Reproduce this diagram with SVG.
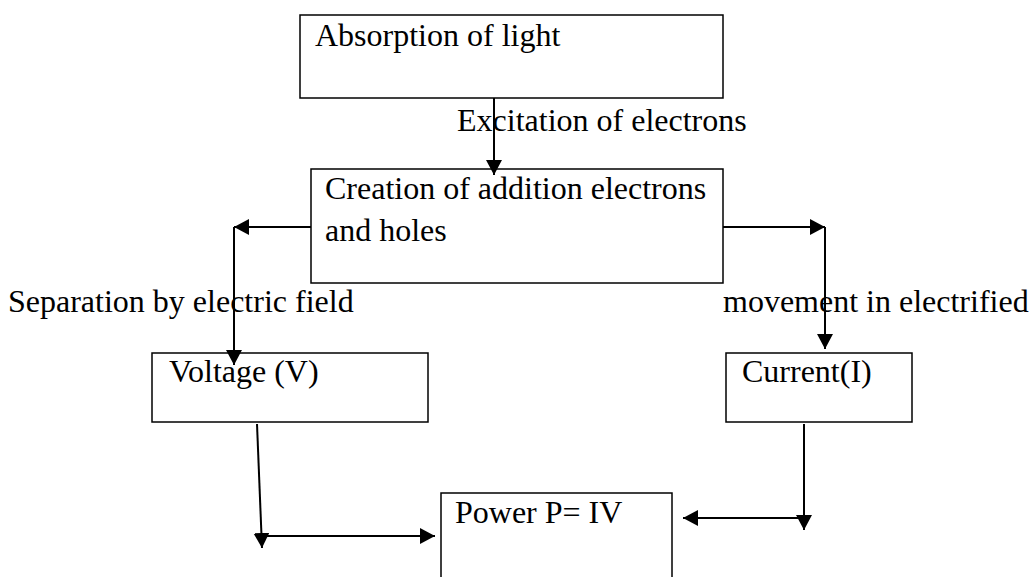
<svg xmlns="http://www.w3.org/2000/svg" width="1030" height="577" viewBox="0 0 1030 577">
<style>
.box{fill:#fff;stroke:#000;stroke-width:1.5}
.t{font-family:"Liberation Serif","Times New Roman",serif;font-size:32px;fill:#000}
.c{fill:none;stroke:#000;stroke-width:2}
</style>
<defs>
<marker id="ah" markerUnits="userSpaceOnUse" markerWidth="18" markerHeight="18" refX="15" refY="8" orient="auto">
<path d="M0,0 L15,8 L0,16 z" fill="#000"/>
</marker>
</defs>
<rect width="1030" height="577" fill="#fff"/>
<g id="n1"><rect class="box" x="300" y="15" width="423" height="83"/><text class="t" x="315" y="46">Absorption of light</text></g>
<g id="n2"><rect class="box" x="311" y="169" width="412" height="114"/><text class="t" x="325" y="199">Creation of addition electrons</text><text class="t" x="325" y="241">and holes</text></g>
<g id="n3"><rect class="box" x="152" y="353" width="276" height="69"/><text class="t" x="169" y="382">Voltage (V)</text></g>
<g id="n4"><rect class="box" x="726" y="353" width="186" height="69"/><text class="t" x="742" y="382">Current(I)</text></g>
<g id="n5"><rect class="box" x="441" y="493" width="231" height="95"/><text class="t" x="455" y="523">Power P= IV</text></g>
<g id="connectors">
<path class="c" d="M494,98 V175" marker-end="url(#ah)"/>
<path class="c" d="M311,227 H234" marker-end="url(#ah)"/>
<path class="c" d="M234,227 V365" marker-end="url(#ah)"/>
<path class="c" d="M723,227 H825" marker-end="url(#ah)"/>
<path class="c" d="M825,227 V349" marker-end="url(#ah)"/>
<path class="c" d="M257,424 L262,548" marker-end="url(#ah)"/>
<path class="c" d="M264,536 H435" marker-end="url(#ah)"/>
<path class="c" d="M804,424 V530" marker-end="url(#ah)"/>
<path class="c" d="M804,518 H683" marker-end="url(#ah)"/>
</g>
<g id="labels">
<text class="t" x="457" y="131">Excitation of electrons</text>
<text class="t" x="8" y="312">Separation by electric field</text>
<text class="t" x="723" y="312">movement in electrified</text>
</g>
</svg>
